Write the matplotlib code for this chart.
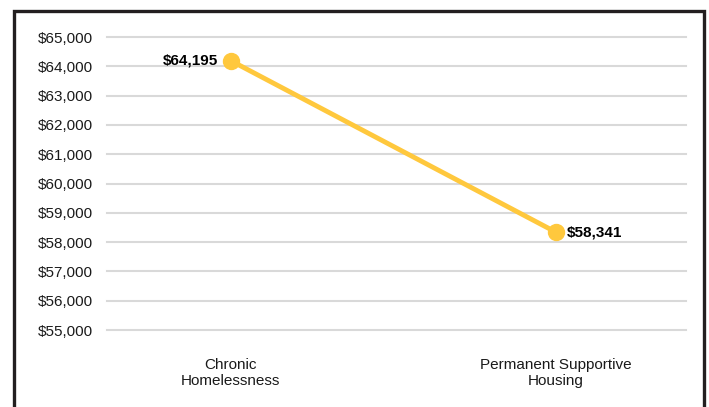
import matplotlib.pyplot as plt
from matplotlib.patches import Rectangle
from matplotlib.ticker import FuncFormatter

plt.rcParams['font.family'] = ['Liberation Sans', 'DejaVu Sans']

categories = ['Chronic\nHomelessness', 'Permanent Supportive\nHousing']
costs = [64195, 58341]
y_ticks = list(range(55000, 66000, 1000))

line_color = '#FFC83D'
grid_color = '#D9D9D9'
frame_color = '#231F20'

fig = plt.figure(figsize=[7.09, 4.07], dpi=100)
ax = fig.add_axes([0.151, 0.189, 0.8166, 0.72])

x = list(range(len(categories)))
ax.plot(x, costs, color=line_color, linewidth=3.5, marker='o',
        markersize=11.5, solid_capstyle='round', zorder=3)

# value labels: first on the left of its point, second on the right
ax.annotate('${:,}'.format(costs[0]), (x[0], costs[0]),
            xytext=(-9, 0), textcoords='offset points',
            ha='right', va='center', fontsize=11, fontweight='bold')
ax.annotate('${:,}'.format(costs[1]), (x[1], costs[1]),
            xytext=(8, 0), textcoords='offset points',
            ha='left', va='center', fontsize=11, fontweight='bold')

ax.set_xlim(-0.38, 1.40)
ax.set_ylim(55000, 65000)
ax.set_yticks(y_ticks)
ax.yaxis.set_major_formatter(FuncFormatter(lambda v, p: '${:,.0f}'.format(v)))
ax.set_xticks(x)
ax.set_xticklabels(categories)

ax.grid(axis='y', color=grid_color, linewidth=1.5)
for gl in ax.yaxis.get_gridlines():
    gl.set_clip_on(False)
ax.set_axisbelow(True)
for spine in ax.spines.values():
    spine.set_visible(False)
ax.tick_params(axis='y', length=0, pad=10, labelsize=11, colors='#1a1a1a')
ax.tick_params(axis='x', length=0, pad=20, labelsize=11, colors='#1a1a1a')

# dark frame round the chart, open at the bottom edge
fig.patches.append(Rectangle((14 / 709, -0.1), 690 / 709, 1.1 - 11 / 407,
                             transform=fig.transFigure, fill=False,
                             edgecolor=frame_color, linewidth=2.4))

fig.savefig('out.png', dpi=100)
